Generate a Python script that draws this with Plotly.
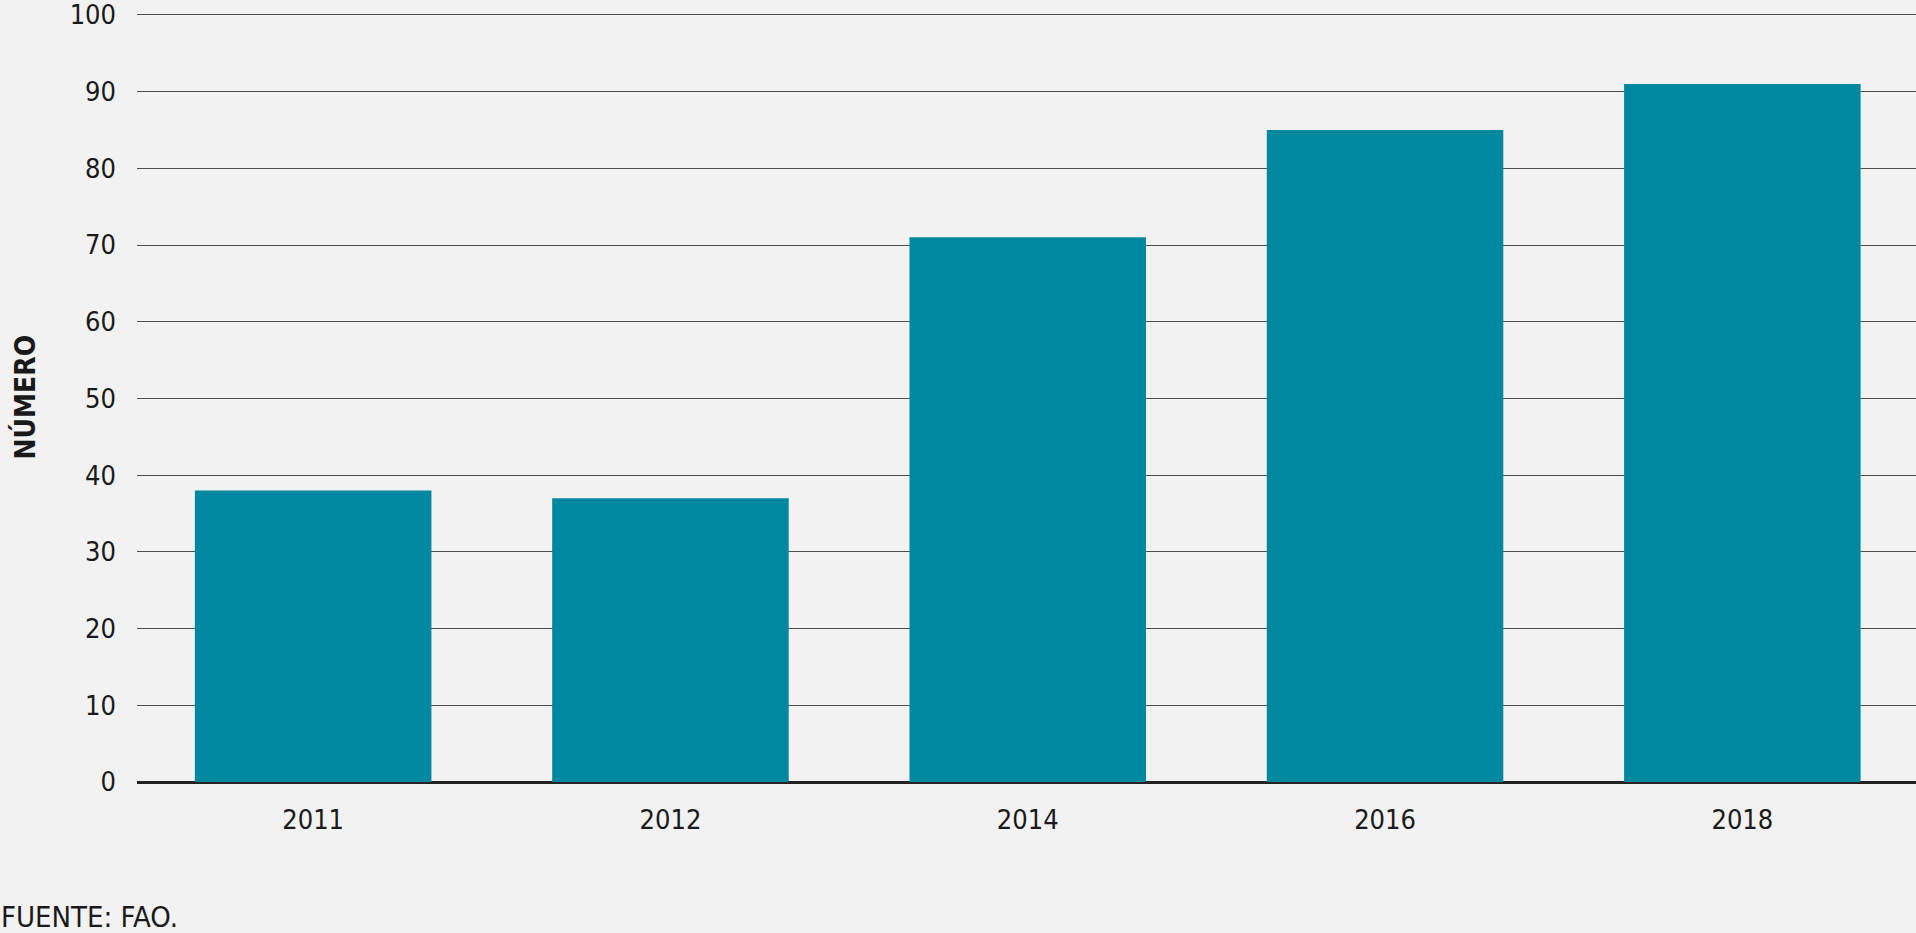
import plotly.graph_objects as go

years = ["2011", "2012", "2014", "2016", "2018"]
values = [38, 37, 71, 85, 91]
y_ticks = [0, 10, 20, 30, 40, 50, 60, 70, 80, 90, 100]

FONT = "DejaVu Sans Condensed, DejaVu Sans, sans-serif"
TXT = "#1a1a1a"

PLOT_W = 1916 - 137
PLOT_H = 782 - 13

fig = go.Figure(go.Bar(
    x=years, y=values,
    marker=dict(color="#0088a1", line=dict(width=0)),
    width=0.662,
))

fig.update_layout(
    width=1916, height=933,
    margin=dict(l=137, r=0, t=13, b=151, pad=0),
    paper_bgcolor="#f2f2f2",
    plot_bgcolor="#f2f2f2",
    font=dict(family=FONT, size=27, color=TXT),
    showlegend=False,
)

fig.update_xaxes(
    type="category",
    range=[-0.493, 4.486],
    showgrid=False,
    showline=False,
    ticks="",
    ticklabelstandoff=19,
    tickfont=dict(family=FONT, size=27, color=TXT),
)

fig.update_yaxes(
    range=[0, 100.25],
    tickmode="array",
    tickvals=y_ticks,
    ticktext=[str(v) for v in y_ticks],
    ticklabeloverflow="allow",
    showgrid=True,
    gridcolor="#4d4d4d",
    gridwidth=1,
    zeroline=True,
    zerolinecolor="#222222",
    zerolinewidth=3,
    showline=False,
    ticks="",
    ticklabelstandoff=20,
    tickfont=dict(family=FONT, size=27, color=TXT),
)

fig.add_annotation(
    text="<b>NÚMERO</b>",
    xref="paper", yref="paper",
    x=(24 - 137) / PLOT_W, y=0.5,
    xanchor="center", yanchor="middle",
    textangle=-90,
    showarrow=False,
    font=dict(family=FONT, size=28, color=TXT),
)

fig.add_annotation(
    text="FUENTE: FAO.",
    xref="paper", yref="paper",
    x=-137 / PLOT_W, y=-153 / PLOT_H,
    xanchor="left", yanchor="bottom",
    showarrow=False,
    borderpad=0,
    font=dict(family=FONT, size=29, color=TXT),
)

fig.write_html(
    "out.html",
    config={"displayModeBar": False},
    post_script="document.body.style.margin='0';document.body.style.padding='0';",
)
